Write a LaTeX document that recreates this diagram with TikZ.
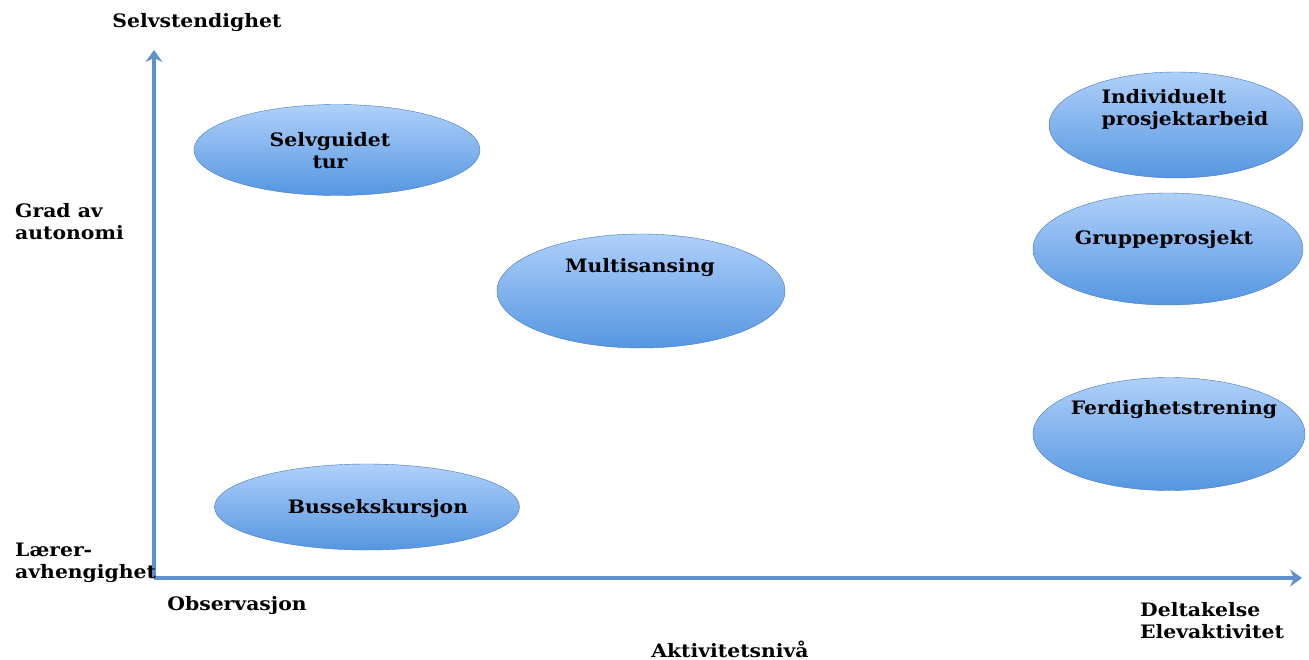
\documentclass[tikz,border=0pt]{standalone}
\usepackage{fontspec}
\setmainfont{DejaVu Serif}[FakeStretch=1.1]
\usetikzlibrary{shapes.geometric,arrows.meta,positioning}
\definecolor{axisblue}{RGB}{95,145,205}
\definecolor{ovaltop}{RGB}{175,208,250}
\definecolor{ovalbot}{RGB}{85,150,225}
\definecolor{ovalrim}{RGB}{70,120,185}

\begin{document}
\begin{tikzpicture} [
      x = 1pt, y = -1pt,
      axis/.style = { line width = 3.5pt, axisblue, -{Stealth[length=12pt,width=17pt,inset=4pt]} },
      oval/.style = { ellipse, draw = ovalrim, thin, top color = ovaltop, bottom color = ovalbot, inner sep = 0 },
      lbl/.style = { font = \bfseries\fontsize{18.5}{22}\selectfont, align = left, inner sep = 0 },
      ovaltext/.style = { font = \bfseries\fontsize{18.5}{22}\selectfont, align = left, inner sep = 0 }
      ]
      \useasboundingbox (0,0) rectangle (1309,660);

      % axes
      \coordinate (origin) at (154,578);
      \coordinate (ytop) at (154,50);
      \coordinate (xend) at (1302,578);
      \draw [axis] (origin) -- (ytop);
      \draw [axis] (origin) -- (xend);

      % ovals
      \node [oval, minimum width = 286pt, minimum height = 91pt] (selvguidet) at (337,150) {};
      \node [oval, minimum width = 288pt, minimum height = 114pt] (multisansing) at (641,291) {};
      \node [oval, minimum width = 305pt, minimum height = 86pt] (buss) at (367,507) {};
      \node [oval, minimum width = 254pt, minimum height = 106pt] (individuelt) at (1176,125) {};
      \node [oval, minimum width = 270pt, minimum height = 112pt] (gruppe) at (1168,249) {};
      \node [oval, minimum width = 272pt, minimum height = 113pt] (ferdighet) at (1169,434) {};

      \node [ovaltext, align = center] at (330,151) {Selvguidet\\tur};
      \node [ovaltext] at (640,268) {Multisansing};
      \node [ovaltext] at (378,509) {Bussekskursjon};
      \node [ovaltext] at (1185,110) {Individuelt\\prosjektarbeid};
      \node [ovaltext] at (1164,240) {Gruppeprosjekt};
      \node [ovaltext] at (1174,410) {Ferdighetstrening};

      % axis labels
      \node [lbl] (selvst) at (197,23) {Selvstendighet};
      \node [lbl, anchor = west] (grad) at (15,222) {Grad av\\autonomi};
      \node [lbl, anchor = west] (laerer) at (15,563) {Lærer-\\avhengighet};
      \node [lbl] (obs) at (237,606) {Observasjon};
      \node [lbl, anchor = west] (deltak) at (1140,621) {Deltakelse\\Elevaktivitet};
      \node [lbl] (aktiv) at (730,649) {Aktivitetsnivå};
    \end{tikzpicture}
\end{document}
